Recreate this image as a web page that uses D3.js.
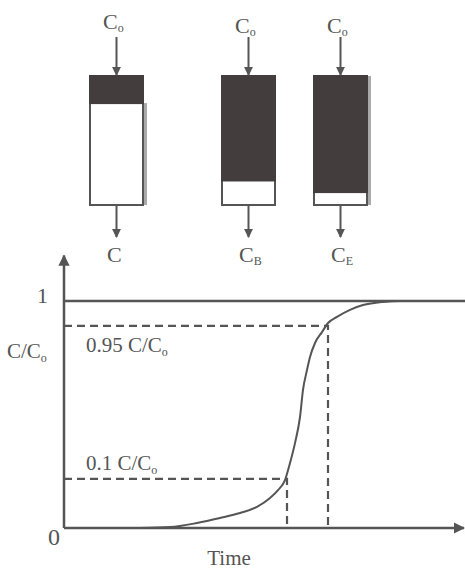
<!DOCTYPE html>
<html>
<head>
  <script src="https://d3js.org/d3.v7.min.js"></script>
  <style>
    body { margin: 0; padding: 0; background: white; overflow: hidden; }
    svg { display: block; }
  </style>
</head>
<body>
  <svg width="465" height="571"></svg>
  <script>
    // column sketch: fraction of bed that is saturated (dark)
    const columnNames = ["start", "breakthrough", "exhaustion"];
    const darkFraction = [0.21, 0.81, 0.9];
    const inletSub = ["o", "o", "o"];
    const outletSub = ["", "B", "E"];

    // breakthrough curve, time in arbitrary units, C/Co
    const curveTime = [19, 26.5, 33.25, 39, 44, 48.25, 51.5, 53.5, 55.25, 56.5, 57.75, 59, 59.75, 60.75, 61.5, 62.75, 64.5, 66, 68.25, 71.5, 74.75, 79.75, 84, 100];
    const curveConc = [0, 0.004, 0.022, 0.044, 0.066, 0.093, 0.132, 0.167, 0.211, 0.286, 0.374, 0.489, 0.608, 0.696, 0.753, 0.815, 0.863, 0.903, 0.93, 0.961, 0.982, 0.996, 1, 1];

    // marked levels on the curve (as drawn)
    const levelConc = [0.216, 0.89];
    const levelTime = [55.75, 66];
    const levelLabel = ["0.1 C/C", "0.95 C/C"];

    const ink = "#555";
    const font = "Liberation Serif";
    const svg = d3.select("svg");

    svg.append("defs").append("marker")
        .attr("id", "arrow")
        .attr("viewBox", "0 0 10 10")
        .attr("refX", 9).attr("refY", 5)
        .attr("markerWidth", 4.5).attr("markerHeight", 4.5)
        .attr("orient", "auto")
      .append("path")
        .attr("d", "M0,0 L10,5 L0,10 z")
        .attr("fill", ink);

    // ---- top: columns ----
    const colX = d3.scaleOrdinal().domain(columnNames).range([90, 222, 314]);
    const colW = 53;
    const bedY = d3.scaleLinear().domain([0, 1]).range([76, 205]);

    const cols = svg.append("g").selectAll("g")
      .data(columnNames)
      .enter().append("g");

    // shadow on right side
    cols.append("rect")
        .attr("x", d => colX(d) + colW)
        .attr("y", (d, i) => i === 1 ? bedY(1) : bedY(i === 0 ? darkFraction[i] : 0))
        .attr("width", (d, i) => i === 1 ? 0 : 4)
        .attr("height", (d, i) => bedY(1) - bedY(i === 0 ? darkFraction[i] : 0))
        .attr("fill", "#aaa");

    cols.append("rect")
        .attr("x", d => colX(d))
        .attr("y", bedY(0))
        .attr("width", colW)
        .attr("height", bedY(1) - bedY(0))
        .attr("fill", "white")
        .attr("stroke", ink)
        .attr("stroke-width", 2);

    cols.append("rect")
        .attr("x", d => colX(d))
        .attr("y", bedY(0))
        .attr("width", colW)
        .attr("height", (d, i) => bedY(darkFraction[i]) - bedY(0))
        .attr("fill", "#433d3e")
        .attr("stroke", "#433d3e")
        .attr("stroke-width", 2);

    cols.append("line")
        .attr("x1", d => colX(d) + colW / 2).attr("x2", d => colX(d) + colW / 2)
        .attr("y1", 37).attr("y2", bedY(0) - 1)
        .attr("stroke", ink).attr("stroke-width", 2)
        .attr("marker-end", "url(#arrow)");

    cols.append("line")
        .attr("x1", d => colX(d) + colW / 2).attr("x2", d => colX(d) + colW / 2)
        .attr("y1", bedY(1)).attr("y2", 237)
        .attr("stroke", ink).attr("stroke-width", 2)
        .attr("marker-end", "url(#arrow)");

    const inLbl = cols.append("text")
        .attr("x", d => colX(d) + 13)
        .attr("y", (d, i) => i === 0 ? 29 : 33)
        .attr("font-family", font).attr("font-size", 22)
        .attr("fill", ink);
    inLbl.append("tspan").text("C");
    inLbl.append("tspan").attr("font-size", 12).attr("dy", 3).text((d, i) => inletSub[i]);

    const outLbl = cols.append("text")
        .attr("x", d => colX(d) + 17)
        .attr("y", 262)
        .attr("font-family", font).attr("font-size", 22)
        .attr("fill", ink);
    outLbl.append("tspan").text("C");
    outLbl.append("tspan").attr("font-size", 12).attr("dy", 3).text((d, i) => outletSub[i]);

    // ---- bottom: breakthrough curve ----
    const x = d3.scaleLinear().domain([0, 100]).range([64, 464]);
    const y = d3.scaleLinear().domain([0, 1]).range([528, 301]);
    const g = svg.append("g");

    g.append("line")
        .attr("x1", x(0)).attr("x2", x(0))
        .attr("y1", y(0)).attr("y2", y(1.2))
        .attr("stroke", ink).attr("stroke-width", 2.5)
        .attr("marker-end", "url(#arrow)");
    g.append("line")
        .attr("x1", x(0)).attr("x2", x(100))
        .attr("y1", y(0)).attr("y2", y(0))
        .attr("stroke", ink).attr("stroke-width", 2.5)
        .attr("marker-end", "url(#arrow)");

    g.append("line")
        .attr("x1", x(0)).attr("x2", 465)
        .attr("y1", y(1)).attr("y2", y(1))
        .attr("stroke", ink).attr("stroke-width", 2.5);

    levelConc.forEach((c, i) => {
      g.append("path")
          .attr("d", d3.line()([[x(0), y(c)], [x(levelTime[i]), y(c)], [x(levelTime[i]), y(0)]]))
          .attr("fill", "none")
          .attr("stroke", ink).attr("stroke-width", 2.2)
          .attr("stroke-dasharray", "8,5");
      const t = g.append("text")
          .attr("x", x(5.5))
          .attr("y", i === 0 ? y(c) - 9 : y(c) + 26)
          .attr("font-family", font).attr("font-size", 21)
          .attr("fill", ink);
      t.append("tspan").text(levelLabel[i]);
      t.append("tspan").attr("font-size", 12).attr("dy", 4).text("o");
    });

    const pts = curveTime.map((t, i) => [x(t), y(curveConc[i])]);
    g.append("path")
        .attr("d", d3.line().curve(d3.curveMonotoneX)(pts))
        .attr("fill", "none")
        .attr("stroke", ink).attr("stroke-width", 2);

    g.append("text")
        .attr("x", 37).attr("y", 303)
        .attr("font-family", font).attr("font-size", 22)
        .attr("fill", ink).text("1");
    g.append("text")
        .attr("x", 48).attr("y", 545)
        .attr("font-family", font).attr("font-size", 24)
        .attr("fill", ink).text("0");

    const yl = g.append("text")
        .attr("x", 7).attr("y", 358)
        .attr("font-family", font).attr("font-size", 21)
        .attr("fill", ink);
    yl.append("tspan").text("C/C");
    yl.append("tspan").attr("font-size", 12).attr("dy", 4).text("o");

    g.append("text")
        .attr("x", 229).attr("y", 565)
        .attr("text-anchor", "middle")
        .attr("font-family", font).attr("font-size", 21)
        .attr("fill", ink).text("Time");
  </script>
</body>
</html>
